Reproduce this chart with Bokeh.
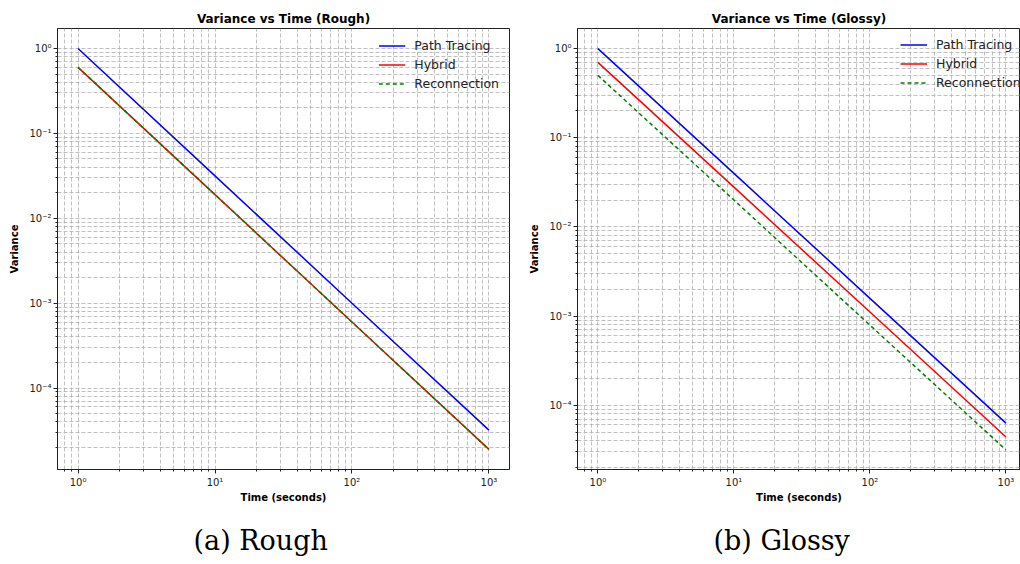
from bokeh.plotting import figure
from bokeh.models import Range1d, FixedTicker, CustomJSTickFormatter, Title
from bokeh.layouts import row
from bokeh.embed import file_html
from bokeh.resources import INLINE

# ---- data ----
time_s = [1, 10, 100, 1000]
rough_path = [1.0, 0.0316, 0.001, 3.2e-5]
rough_hybrid = [0.6, 0.019, 0.0006, 1.9e-5]
rough_recon = [0.6, 0.019, 0.0006, 1.9e-5]
glossy_path = [1.0, 0.0398, 0.00158, 6.3e-5]
glossy_hybrid = [0.7, 0.0279, 0.00111, 4.4e-5]
glossy_recon = [0.5, 0.02, 0.00079, 3.15e-5]
series_names = ["Path Tracing", "Hybrid", "Reconnection"]
titles = ["Variance vs Time (Rough)", "Variance vs Time (Glossy)"]
captions = ["(a) Rough", "(b) Glossy"]
x_label = "Time (seconds)"
y_label = "Variance"

# ---- styling ----
COLORS = ["#0000ff", "#ff0000", "#008000"]
DASHES = ["solid", "solid", "4 3"]
FONT = "DejaVu Sans"

x_major = [10.0 ** k for k in range(-1, 5)]
x_minor = [m * 10.0 ** k for k in range(-1, 4) for m in range(2, 10)]
y_major = [10.0 ** k for k in range(-6, 2)]
y_minor = [m * 10.0 ** k for k in range(-6, 1) for m in range(2, 10)]

SUP_JS = """
const e = Math.round(Math.log10(tick));
const m = {"-":"\u207b","0":"\u2070","1":"\u00b9","2":"\u00b2","3":"\u00b3",
           "4":"\u2074","5":"\u2075","6":"\u2076","7":"\u2077","8":"\u2078","9":"\u2079"};
return "10" + String(e).split("").map(c => m[c]).join("");
"""


def make_panel(title, caption, series, width, border_left, border_right,
               x_end, y_lo, y_hi, legend_loc, legend_margin):
    p = figure(width=width, height=564,
               x_axis_type="log", y_axis_type="log",
               x_range=Range1d(0.708, x_end), y_range=Range1d(y_lo, y_hi),
               output_backend="svg", toolbar_location=None,
               min_border_left=border_left, min_border_right=border_right,
               min_border_top=28, min_border_bottom=95)
    p.background_fill_color = "white"
    p.border_fill_color = "white"
    p.outline_line_color = "#222222"
    p.outline_line_width = 1

    p.title.text = title
    p.title.align = "center"
    p.title.text_font = FONT
    p.title.text_font_size = "12px"
    p.title.text_font_style = "bold"
    p.title.text_color = "black"
    p.title.standoff = 6

    for vals, name, col, dash in zip(series, series_names, COLORS, DASHES):
        p.line(time_s, vals, line_color=col, line_width=1.5, line_dash=dash,
               legend_label=name)

    p.xaxis.ticker = FixedTicker(ticks=x_major, minor_ticks=x_minor)
    p.yaxis.ticker = FixedTicker(ticks=y_major, minor_ticks=y_minor)
    for ax in (p.xaxis[0], p.yaxis[0]):
        ax.formatter = CustomJSTickFormatter(code=SUP_JS)
        ax.major_label_text_font = FONT
        ax.major_label_text_font_size = "10px"
        ax.major_label_text_color = "#222222"
        ax.axis_label_text_font = FONT
        ax.axis_label_text_font_size = "10px"
        ax.axis_label_text_font_style = "bold"
        ax.axis_label_text_color = "black"
        ax.axis_line_color = "#222222"
        ax.major_tick_line_color = "#222222"
        ax.minor_tick_line_color = "#222222"
        ax.major_tick_in = 0
        ax.major_tick_out = 4
        ax.minor_tick_in = 0
        ax.minor_tick_out = 2
    p.xaxis.major_label_standoff = 3
    p.yaxis.major_label_standoff = 2
    p.xaxis.axis_label = x_label
    p.yaxis.axis_label = y_label
    p.xaxis.axis_label_standoff = 1
    p.yaxis.axis_label_standoff = 6

    for g in (p.xgrid[0], p.ygrid[0]):
        g.grid_line_color = "#b0b0b0"
        g.grid_line_alpha = 0.8
        g.grid_line_dash = "4 2"
        g.minor_grid_line_color = "#b0b0b0"
        g.minor_grid_line_alpha = 0.8
        g.minor_grid_line_dash = "4 2"

    lg = p.legend[0]
    lg.location = legend_loc
    lg.border_line_color = None
    lg.background_fill_alpha = 0
    lg.label_text_font = FONT
    lg.label_text_font_size = "12.5px"
    lg.label_text_color = "#222222"
    lg.glyph_width = 27
    lg.glyph_height = 15
    lg.label_height = 15
    lg.label_standoff = 9
    lg.spacing = 4
    lg.padding = 0
    lg.margin = legend_margin

    # small blank spacer between the axis label and the caption
    p.add_layout(Title(text=" ", standoff=0, text_font_size="10px"), "below")
    p.add_layout(Title(text=caption, align="left", offset=136, standoff=8,
                       text_font="DejaVu Serif", text_font_size="27px",
                       text_font_style="normal", text_color="black"), "below")
    return p


p1 = make_panel(titles[0], captions[0], [rough_path, rough_hybrid, rough_recon],
                width=519, border_left=57, border_right=10,
                x_end=1413, y_lo=1.1e-5, y_hi=1.72,
                legend_loc="top_right", legend_margin=10)
p2 = make_panel(titles[1], captions[1], [glossy_path, glossy_hybrid, glossy_recon],
                width=501, border_left=58, border_right=0,
                x_end=1279, y_lo=1.9e-5, y_hi=1.68,
                legend_loc=(323, 379), legend_margin=0)

layout = row(p1, p2)
open("out.html", "w").write(file_html(layout, INLINE))
